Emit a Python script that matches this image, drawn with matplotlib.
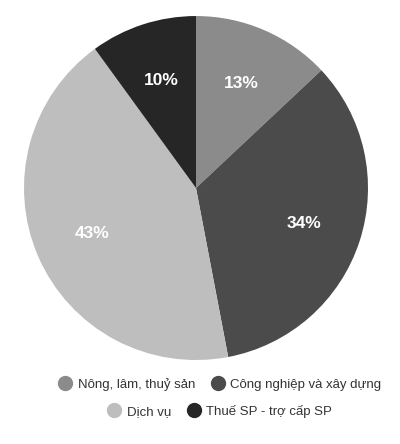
import matplotlib.pyplot as plt
from matplotlib.lines import Line2D

plt.rcParams['font.family'] = ['Liberation Sans', 'DejaVu Sans']

# data
sectors = ['Nông, lâm, thuỷ sản', 'Công nghiệp và xây dựng', 'Dịch vụ', 'Thuế SP - trợ cấp SP']
shares = [13, 34, 43, 10]
colors = ['#8b8b8b', '#4b4b4b', '#bebebe', '#262626']

fig = plt.figure(figsize=(4.0, 4.44), dpi=100)
ax = fig.add_axes([0.06, 0.189, 0.86, 0.775])
wedges, texts, autotexts = ax.pie(shares, colors=colors, startangle=90, counterclock=False,
                                  autopct='%d%%', pctdistance=0.66,
                                  textprops=dict(color='white', fontsize=12.5, fontweight='bold'))
ax.set_xlim(-1, 1)
ax.set_ylim(-1, 1)
ax.set_aspect('equal')

def handles(idx):
    return [Line2D([], [], marker='o', linestyle='none', markersize=10,
                   markerfacecolor=colors[i], markeredgecolor=colors[i]) for i in idx]

leg1 = fig.legend(handles([0, 1]), sectors[:2], loc='center', bbox_to_anchor=(0.55, 0.135),
                  ncol=2, frameon=False, fontsize=9.5, handletextpad=0.45, columnspacing=1.2,
                  handlelength=1.0)
leg2 = fig.legend(handles([2, 3]), sectors[2:], loc='center', bbox_to_anchor=(0.55, 0.073),
                  ncol=2, frameon=False, fontsize=9.5, handletextpad=0.45, columnspacing=1.2,
                  handlelength=1.0)
for leg in (leg1, leg2):
    for t in leg.get_texts():
        t.set_color('#333333')

plt.savefig('out.png', dpi=100)
plt.close()
